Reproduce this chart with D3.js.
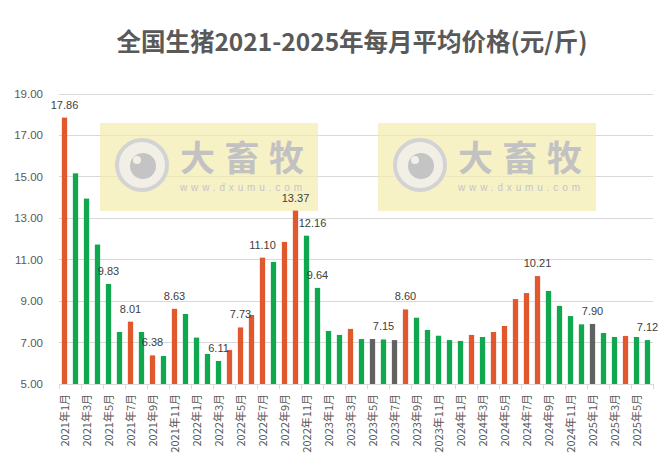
<!DOCTYPE html>
<html><head><meta charset="utf-8">
<script src="https://cdn.jsdelivr.net/npm/d3@7/dist/d3.min.js"></script>
<style>
html,body{margin:0;padding:0;background:#fff;}
svg{display:block;}
</style></head>
<body><div id="chart"></div>
<script>
const titleText = "全国生猪2021-2025年每月平均价格(元/斤)";
const months = [];
for (let y = 2021; y <= 2025; y++) for (let m = 1; m <= 12; m++) { if (y === 2025 && m > 6) break; months.push(y + "年" + m + "月"); }
const prices = [
  17.86, 15.17, 13.95, 11.73, 9.83, 7.51, 8.01, 7.51, 6.38, 6.35, 8.63, 8.38,
  7.24, 6.45, 6.11, 6.64, 7.73, 8.33, 11.10, 10.89, 11.86, 13.37, 12.16, 9.64,
  7.56, 7.37, 7.66, 7.17, 7.17, 7.15, 7.12, 8.60, 8.20, 7.61, 7.33, 7.12,
  7.08, 7.37, 7.27, 7.51, 7.80, 9.10, 9.39, 10.21, 9.49, 8.77, 8.28, 7.88,
  7.90, 7.46, 7.27, 7.32, 7.27, 7.12
];
// u = up (orange), d = down (green), f = flat (gray)
const trend = [
  "u","d","d","d","d","d","u","d","u","d","u","d",
  "d","d","d","u","u","u","u","d","u","u","d","d",
  "d","d","u","d","f","d","f","u","d","d","d","d",
  "d","u","d","u","u","u","u","u","d","d","d","d",
  "f","d","d","u","d","d"
];
const labeledMonths = ["2021年1月","2021年5月","2021年7月","2021年9月","2021年11月","2022年3月","2022年5月","2022年7月","2022年10月","2022年11月","2022年12月","2023年6月","2023年8月","2024年8月","2025年1月","2025年6月"];
const yTicks = [5, 7, 9, 11, 13, 15, 17, 19];

const W = 669, H = 476;
const colors = {u: "#E0582B", d: "#10A84F", f: "#616161"};
const labelNudge = {"2022年11月": 6};

const svg = d3.select("#chart").append("svg").attr("width", W).attr("height", H);
const x = d3.scaleBand().domain(months).range([59, 653]).paddingInner(0.52).paddingOuter(0.26);
const y = d3.scaleLinear().domain([5, 19]).range([384, 94]);

// title
svg.append("text").attr("x", 352).attr("y", 51).attr("text-anchor", "middle")
  .attr("font-family", "'Noto Sans CJK SC', sans-serif").attr("font-weight", "bold")
  .attr("font-size", 24.5).attr("fill", "#595959").text(titleText);

// gridlines
svg.append("g").selectAll("line").data(yTicks.slice(1)).join("line")
  .attr("x1", 59).attr("x2", 653).attr("y1", d => y(d)).attr("y2", d => y(d))
  .attr("stroke", "#D9D9D9").attr("stroke-width", 1).attr("shape-rendering", "crispEdges");

// watermarks
function watermark(x0) {
  const g = svg.append("g").attr("transform", `translate(${x0},123)`);
  g.append("rect").attr("width", 218).attr("height", 88).attr("fill", "#F4EBAE").attr("opacity", 0.7);
  g.append("circle").attr("cx", 42).attr("cy", 42).attr("r", 25).attr("fill", "#F2F0E6").attr("stroke", "#D3D3D3").attr("stroke-width", 4);
  g.append("circle").attr("cx", 43).attr("cy", 43).attr("r", 13).attr("fill", "#C4C4C4");
  g.append("circle").attr("cx", 37).attr("cy", 37).attr("r", 4).attr("fill", "#F2F0E6");
  g.append("text").attr("x", 80).attr("y", 48).attr("font-family", "'Noto Sans CJK SC', sans-serif")
    .attr("font-weight", "bold").attr("font-size", 35).attr("fill", "#C2C2C2").attr("textLength", 124).text("大畜牧");
  g.append("text").attr("x", 80).attr("y", 68).attr("font-family", "'Liberation Sans', Arial, sans-serif")
    .attr("font-size", 10).attr("fill", "#C6C6C6").attr("textLength", 122).text("www.dxumu.com");
}
watermark(100);
watermark(378);

// bars
svg.append("g").selectAll("rect").data(months).join("rect")
  .attr("x", d => x(d)).attr("width", x.bandwidth())
  .attr("y", (d, i) => y(prices[i])).attr("height", (d, i) => y(5) - y(prices[i]))
  .attr("fill", (d, i) => colors[trend[i]]);

// y axis labels
svg.append("g").selectAll("text").data(yTicks).join("text")
  .attr("x", 43).attr("y", d => y(d) + 4).attr("text-anchor", "end")
  .attr("font-family", "'Liberation Sans', Arial, sans-serif").attr("font-size", 11.5).attr("fill", "#595959")
  .text(d => d3.format(".2f")(d));

// x axis
const xa = svg.append("g").attr("transform", "translate(0,384)");
xa.append("line").attr("x1", 59).attr("x2", 653).attr("stroke", "#D9D9D9").attr("shape-rendering", "crispEdges");
const tickMonths = months.filter((d, i) => i % 2 === 0);
xa.selectAll("line.t").data(tickMonths.concat(["end"])).join("line").attr("class", "t")
  .attr("x1", d => d === "end" ? 653 : x(d) - x.step() * x.paddingInner() / 2)
  .attr("x2", d => d === "end" ? 653 : x(d) - x.step() * x.paddingInner() / 2)
  .attr("y1", 0).attr("y2", 5).attr("stroke", "#D9D9D9").attr("shape-rendering", "crispEdges");
xa.selectAll("text").data(tickMonths).join("text")
  .attr("transform", d => `translate(${x(d) + x.bandwidth() / 2 + 4},10) rotate(-90)`)
  .attr("text-anchor", "end")
  .attr("font-family", "'Noto Sans CJK SC', sans-serif").attr("font-size", 11).attr("fill", "#595959")
  .text(d => d);

// data labels
svg.append("g").selectAll("text").data(labeledMonths).join("text")
  .attr("x", d => x(d) + x.bandwidth() / 2 + (labelNudge[d] || 0))
  .attr("y", d => y(prices[months.indexOf(d)]) - 9)
  .attr("text-anchor", "middle")
  .attr("font-family", "'Liberation Sans', Arial, sans-serif").attr("font-size", 11).attr("fill", "#404040")
  .text(d => d3.format(".2f")(prices[months.indexOf(d)]));
</script></body></html>
